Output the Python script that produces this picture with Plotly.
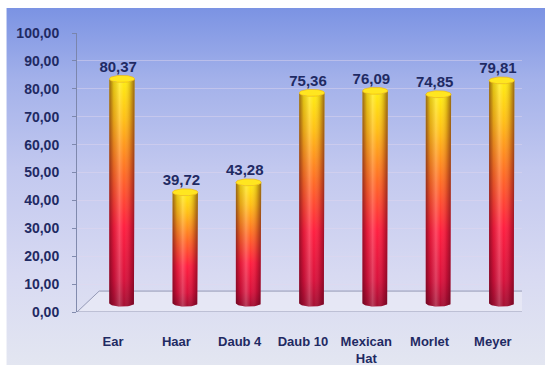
import numpy as np
import plotly.graph_objects as go

categories = ["Ear", "Haar", "Daub 4", "Daub 10", "Mexican<br>Hat", "Morlet", "Meyer"]
values = [80.37, 39.72, 43.28, 75.36, 76.09, 74.85, 79.81]
y_ticks = [0, 10, 20, 30, 40, 50, 60, 70, 80, 90, 100]

# style / geometry constants (pseudo-3D look)
DX = 0.14      # depth shift of bars along x (category units)
DY = 3.2       # depth shift of bars along y (value units)
HW = 0.20      # cylinder half width (category units)
EH = 1.25      # ellipse half height (value units)
FLOOR_DX = 0.35
FLOOR_DY = 7.5
XR = [-0.57, 6.46]

NAVY = "#1f2a63"
FONT = "Liberation Sans, Arial, sans-serif"

fig = go.Figure()

# background gradient on an invisible full-page subplot
fig.add_trace(go.Scatter(
    x=[0.012, 1, 1, 0.012, 0.012], y=[0, 0, 0.978, 0.978, 0],
    xaxis="x", yaxis="y", mode="lines", line=dict(width=0),
    fill="toself",
    fillgradient=dict(type="vertical", start=0, stop=0.978,
                      colorscale=[[0, "#e3e6f1"], [0.25, "#d8daf2"],
                                  [0.55, "#c2c8ef"], [0.8, "#a3b1ea"],
                                  [1, "#7b93e3"]]),
    hoverinfo="skip", showlegend=False))

body_scale = [[0, "#a30f33"], [0.12, "#d8123c"], [0.35, "#ff1f40"],
              [0.58, "#ff6a26"], [0.82, "#ffbf16"], [1, "#ffee12"]]
shade_scale = [[0, "rgba(70,0,20,0.55)"], [0.18, "rgba(70,0,20,0.15)"],
               [0.4, "rgba(255,255,255,0.20)"], [0.58, "rgba(255,255,255,0.0)"],
               [0.82, "rgba(70,0,20,0.18)"], [1, "rgba(70,0,20,0.55)"]]

for i, v in enumerate(values):
    xc = i + DX
    base = DY
    top = v + DY
    t1 = np.linspace(np.pi, 2 * np.pi, 30)
    t2 = np.linspace(2 * np.pi, np.pi, 30)
    bx = np.concatenate([[xc - HW], xc + HW * np.cos(t1), [xc + HW],
                         xc + HW * np.cos(t2), [xc - HW]])
    by = np.concatenate([[top], top + EH * np.sin(t1), [base],
                         base + EH * np.sin(t2), [top]])
    fig.add_trace(go.Scatter(
        x=bx, y=by, xaxis="x2", yaxis="y2", mode="lines", line=dict(width=0),
        fill="toself",
        fillgradient=dict(type="vertical", start=base - EH, stop=top,
                          colorscale=body_scale),
        hoverinfo="skip", showlegend=False))
    fig.add_trace(go.Scatter(
        x=bx, y=by, xaxis="x2", yaxis="y2", mode="lines", line=dict(width=0),
        fill="toself",
        fillgradient=dict(type="horizontal", start=xc - HW, stop=xc + HW,
                          colorscale=shade_scale),
        hoverinfo="skip", showlegend=False))
    t = np.linspace(0, 2 * np.pi, 50)
    fig.add_trace(go.Scatter(
        x=xc + HW * np.cos(t), y=top + EH * np.sin(t), xaxis="x2", yaxis="y2",
        mode="lines", line=dict(width=0.6, color="#f2b400"),
        fill="toself", fillcolor="#ffe620",
        hoverinfo="skip", showlegend=False))

# value labels
fig.add_trace(go.Scatter(
    x=[i + DX - 0.06 for i in range(len(values))],
    y=[v + DY + EH for v in values],
    text=[f"{v:.2f}".replace(".", ",") for v in values],
    mode="text", textposition="top center",
    textfont=dict(family=FONT, size=15, color=NAVY, weight="bold"),
    xaxis="x2", yaxis="y2", hoverinfo="skip", showlegend=False))

# floor
fig.add_shape(type="path", xref="x2", yref="y2", layer="below",
              path=(f"M {XR[0]},0 L {XR[1]},0 L {XR[1] + FLOOR_DX},{FLOOR_DY} "
                    f"L {XR[0] + FLOOR_DX},{FLOOR_DY} Z"),
              fillcolor="rgba(238,238,248,0.55)",
              line=dict(color="rgba(140,145,175,0.9)", width=1))

fig.update_layout(
    width=545, height=365,
    margin=dict(l=0, r=0, t=0, b=0, autoexpand=False),
    paper_bgcolor="white", plot_bgcolor="rgba(0,0,0,0)",
    separators=",.",
    hovermode=False,
    xaxis=dict(domain=[0, 1], range=[0, 1], visible=False, fixedrange=True,
               automargin=False),
    yaxis=dict(domain=[0, 1], range=[0, 1], visible=False, fixedrange=True,
               automargin=False),
    xaxis2=dict(domain=[77 / 545, 522 / 545], range=XR, anchor="y2",
                tickvals=list(range(len(categories))), ticktext=categories,
                showgrid=False, zeroline=False, showline=False, ticks="",
                ticklabelstandoff=20, automargin=False,
                tickfont=dict(family=FONT, size=13, color=NAVY, weight="bold")),
    yaxis2=dict(domain=[53 / 365, 332 / 365], range=[0, 100], anchor="x2",
                tickvals=y_ticks, tickformat=".2f", automargin=False,
                showgrid=True, gridcolor="rgba(226,214,238,0.45)", gridwidth=1,
                zeroline=False, showline=True, linecolor="rgba(120,130,165,0.9)",
                linewidth=1, ticks="outside", ticklen=4,
                tickcolor="rgba(120,130,165,0.9)", ticklabelstandoff=10,
                tickfont=dict(family=FONT, size=14, color=NAVY, weight="bold")),
)

fig.write_html("out.html")
